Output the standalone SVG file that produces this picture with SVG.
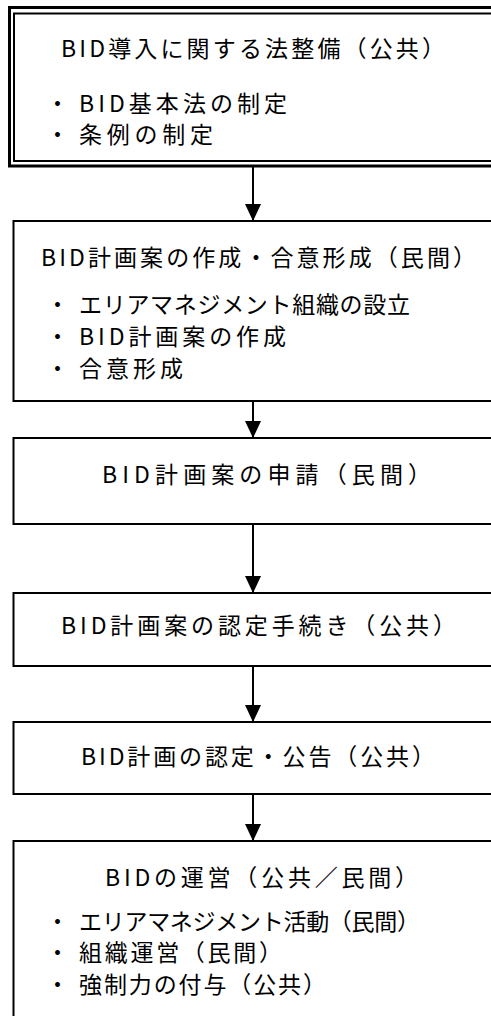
<svg xmlns="http://www.w3.org/2000/svg" width="491" height="1016" viewBox="0 0 491 1016">
  <style>
    .box { fill: #ffffff; stroke: #000000; stroke-width: 2; }
    .t { font-family: "Noto Sans CJK JP", "Liberation Sans", sans-serif; font-size: 23px; fill: #000000; }
    .conn { stroke: #000000; stroke-width: 2; fill: none; }
  </style>
  <defs>
    <marker id="ah" markerUnits="userSpaceOnUse" markerWidth="17" markerHeight="16" refX="17" refY="8" orient="auto" viewBox="0 0 17 16">
      <polygon points="0,0 17,8 0,16" fill="#000000"/>
    </marker>
  </defs>
  <rect x="0" y="0" width="491" height="1016" fill="#ffffff"/>

  <g id="connectors">
    <path class="conn" d="M253 167 V221" marker-end="url(#ah)"/>
    <path class="conn" d="M253 402 V438" marker-end="url(#ah)"/>
    <path class="conn" d="M253 524 V593" marker-end="url(#ah)"/>
    <path class="conn" d="M253 666 V722" marker-end="url(#ah)"/>
    <path class="conn" d="M253 794 V841" marker-end="url(#ah)"/>
  </g>

  <g id="node1">
    <rect x="9.5" y="7.5" width="520" height="158.5" fill="#ffffff" stroke="#000" stroke-width="3"/>
    <rect x="14" y="13.5" width="510" height="147.5" fill="none" stroke="#000" stroke-width="2"/>
    <text class="t" x="61" y="57" textLength="384" lengthAdjust="spacing">BID導入に関する法整備（公共）</text>
    <text class="t" y="112"><tspan x="46">・ </tspan><tspan x="79" textLength="208" lengthAdjust="spacing">BID基本法の制定</tspan></text>
    <text class="t" y="143"><tspan x="46">・ </tspan><tspan x="79" textLength="134" lengthAdjust="spacing">条例の制定</tspan></text>
  </g>

  <g id="node2">
    <rect class="box" x="13.5" y="221" width="520" height="180"/>
    <text class="t" x="41" y="266" textLength="435" lengthAdjust="spacing">BID計画案の作成・合意形成（民間）</text>
    <text class="t" y="313"><tspan x="46">・ </tspan><tspan x="79" textLength="331" lengthAdjust="spacing">エリアマネジメント組織の設立</tspan></text>
    <text class="t" y="345"><tspan x="46">・ </tspan><tspan x="79" textLength="207" lengthAdjust="spacing">BID計画案の作成</tspan></text>
    <text class="t" y="377"><tspan x="46">・ </tspan><tspan x="79" textLength="104" lengthAdjust="spacing">合意形成</tspan></text>
  </g>

  <g id="node3">
    <rect class="box" x="13.5" y="438" width="520" height="86"/>
    <text class="t" x="102" y="483" textLength="329" lengthAdjust="spacing">BID計画案の申請（民間）</text>
  </g>

  <g id="node4">
    <rect class="box" x="13.5" y="593" width="520" height="73"/>
    <text class="t" x="61" y="634" textLength="395" lengthAdjust="spacing">BID計画案の認定手続き（公共）</text>
  </g>

  <g id="node5">
    <rect class="box" x="13.5" y="722" width="520" height="72"/>
    <text class="t" x="81" y="765" textLength="354" lengthAdjust="spacing">BID計画の認定・公告（公共）</text>
  </g>

  <g id="node6">
    <rect class="box" x="13.5" y="841" width="520" height="200"/>
    <text class="t" x="105" y="886" textLength="313" lengthAdjust="spacing">BIDの運営（公共／民間）</text>
    <text class="t" y="930"><tspan x="46">・ </tspan><tspan x="79" textLength="341" lengthAdjust="spacing">エリアマネジメント活動（民間）</tspan></text>
    <text class="t" y="961"><tspan x="46">・ </tspan><tspan x="79" textLength="203" lengthAdjust="spacing">組織運営（民間）</tspan></text>
    <text class="t" y="993"><tspan x="46">・ </tspan><tspan x="79" textLength="247" lengthAdjust="spacing">強制力の付与（公共）</tspan></text>
  </g>
</svg>
